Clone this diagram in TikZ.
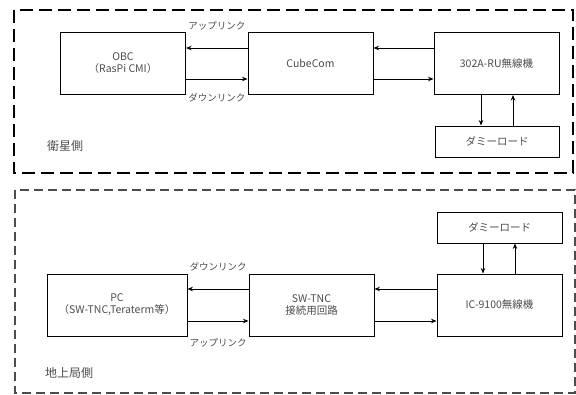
\documentclass[tikz,border=0pt]{standalone}
\usepackage{fontspec}
\setmainfont{Noto Sans CJK JP}
\usetikzlibrary{arrows.meta,calc,positioning}

\begin{document}
\begin{tikzpicture}[
  x=1pt, y=-1pt,
  blk/.style={draw, line width=1pt, minimum width=125pt, minimum height=62pt, inner sep=0pt, align=center, font=\fontsize{10.5}{12}\selectfont, text=black!70},
  dmy/.style={blk, minimum height=31pt},
  lbl/.style={font=\fontsize{9.5}{11}\selectfont, text=black!70, inner sep=0pt},
  side/.style={font=\fontsize{12}{14}\selectfont, text=black!70, inner sep=0pt, anchor=west},
  link/.style={draw, line width=1pt, -{Stealth[length=5.5pt,width=4.5pt]}}
]
\useasboundingbox (0,0) rectangle (576,394);

% satellite side
\draw[line width=2.4pt, dash pattern=on 13pt off 6pt] (14,10) rectangle (573,173);
\node[blk] (obc) at (123,63.5) {OBC\\（RasPi CMI）};
\node[blk] (cube) at (310.5,63.5) {CubeCom};
\node[blk] (radioA) at (496.5,63.5) {302A-RU無線機};
\node[dmy, minimum width=124pt] (dummyA) at (497,141.5) {ダミーロード};
\draw[link] ([yshift=15.5pt]cube.west) -- ([yshift=15.5pt]obc.east);
\draw[link] ([yshift=-15.5pt]obc.east) -- ([yshift=-15.5pt]cube.west);
\draw[link] ([yshift=15.5pt]radioA.west) -- ([yshift=15.5pt]cube.east);
\draw[link] ([yshift=-15.5pt]cube.east) -- ([yshift=-15.5pt]radioA.west);
\draw[link] (radioA.south -| 481,0) -- (dummyA.north -| 481,0);
\draw[link] (dummyA.north -| 513,0) -- (radioA.south -| 513,0);
\node[lbl] (upA) at ($(obc.north east)!.5!(cube.north west)+(0,-6)$) {アップリンク};
\node[lbl] (downA) at ($(obc.south east)!.5!(cube.south west)+(0,3)$) {ダウンリンク};
\node[side] (sat) at (47,146) {衛星側};

% ground side
\draw[line width=1.6pt, black!70, dash pattern=on 9pt off 5pt] (15,190) rectangle (575,393);
\node[blk, minimum width=140pt] (pc) at (117,305) {PC\\（SW-TNC,Teraterm等）};
\node[blk] (tnc) at (311.5,305) {SW-TNC\\接続用回路};
\node[blk] (radioB) at (499.5,305) {IC-9100無線機};
\node[dmy] (dummyB) at (499.5,227.5) {ダミーロード};
\draw[link] ([yshift=16pt]tnc.west) -- ([yshift=16pt]pc.east);
\draw[link] ([yshift=-16pt]pc.east) -- ([yshift=-16pt]tnc.west);
\draw[link] ([yshift=16pt]radioB.west) -- ([yshift=16pt]tnc.east);
\draw[link] ([yshift=-16pt]tnc.east) -- ([yshift=-16pt]radioB.west);
\draw[link] (dummyB.south -| 483,0) -- (radioB.north -| 483,0);
\draw[link] (radioB.north -| 515,0) -- (dummyB.south -| 515,0);
\node[lbl] (downB) at ($(pc.north east)!.5!(tnc.north west)+(0,-7)$) {ダウンリンク};
\node[lbl] (upB) at ($(pc.south east)!.5!(tnc.south west)+(0,6)$) {アップリンク};
\node[side] (gnd) at (45,373) {地上局側};
\end{tikzpicture}
\end{document}
